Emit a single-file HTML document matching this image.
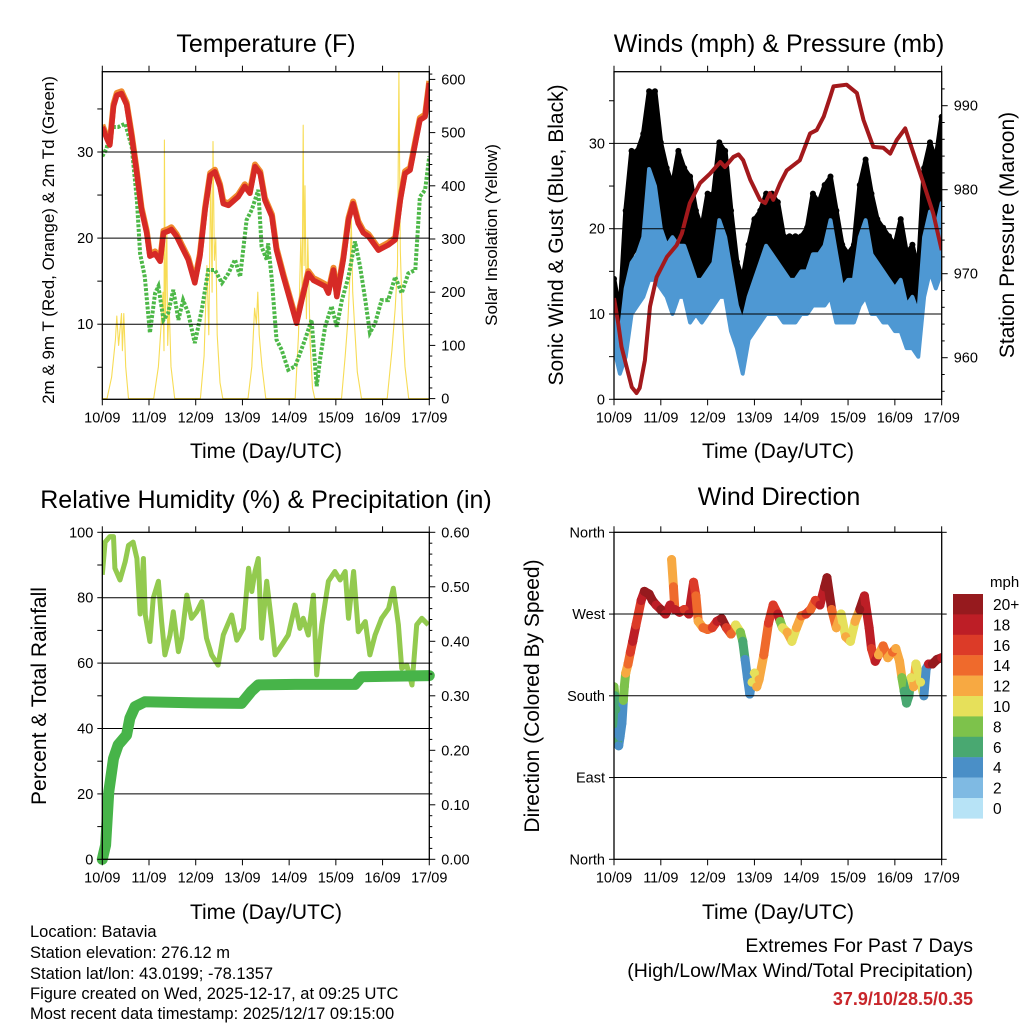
<!DOCTYPE html>
<html><head><meta charset="utf-8"><style>
html,body{margin:0;padding:0;background:#fff;}
svg{display:block;font-family:"Liberation Sans",Arial,sans-serif;}
</style></head><body>
<svg id="root" width="1024" height="1024" viewBox="0 0 1024 1024" xmlns="http://www.w3.org/2000/svg">
<defs>
<clipPath id="c1"><rect x="102.3" y="71.7" width="327" height="327.6"/></clipPath>
<clipPath id="c2"><rect x="614" y="71.7" width="327.7" height="327.6"/></clipPath>
<clipPath id="c3"><rect x="102.3" y="532.3" width="327" height="327"/></clipPath>
<clipPath id="c4"><rect x="614" y="532.3" width="327.7" height="327"/></clipPath>
</defs>
<g font-size="25" text-anchor="middle" fill="#000">
<text x="266" y="52">Temperature (F)</text>
<text x="779" y="52">Winds (mph) &amp; Pressure (mb)</text>
<text x="266" y="508">Relative Humidity (%) &amp; Precipitation (in)</text>
<text x="779" y="505">Wind Direction</text>
</g>
<g font-size="21" text-anchor="middle">
<text x="266" y="458">Time (Day/UTC)</text>
<text x="778" y="458">Time (Day/UTC)</text>
<text x="266" y="919">Time (Day/UTC)</text>
<text x="778" y="919">Time (Day/UTC)</text>
<text transform="translate(54,240) rotate(-90)" font-size="17">2m &amp; 9m T (Red, Orange) &amp; 2m Td (Green)</text>
<text transform="translate(497,235) rotate(-90)" font-size="17">Solar Insolation (Yellow)</text>
<text transform="translate(563,235) rotate(-90)">Sonic Wind &amp; Gust (Blue, Black)</text>
<text transform="translate(1014,235) rotate(-90)">Station Pressure (Maroon)</text>
<text transform="translate(46,696) rotate(-90)">Percent &amp; Total Rainfall</text>
<text transform="translate(539,696) rotate(-90)">Direction (Colored By Speed)</text>
</g>
<g font-size="16.5">
<text x="30" y="937">Location: Batavia</text>
<text x="30" y="958">Station elevation: 276.12 m</text>
<text x="30" y="979">Station lat/lon: 43.0199; -78.1357</text>
<text x="30" y="999">Figure created on Wed, 2025-12-17, at 09:25 UTC</text>
<text x="30" y="1019">Most recent data timestamp: 2025/12/17 09:15:00</text>
</g>
<g font-size="19.5" text-anchor="end">
<text x="973" y="952">Extremes For Past 7 Days</text>
<text x="973" y="977">(High/Low/Max Wind/Total Precipitation)</text>
<text x="973" y="1005" fill="#c8262b" font-weight="bold" font-size="18">37.9/10/28.5/0.35</text>
</g>
<g id="plots"></g>
</svg>
<script>
const dayLabels=["10/09","11/09","12/09","13/09","14/09","15/09","16/09","17/09"];
const tempT=[0,0.11,0.16,0.24,0.31,0.41,0.52,0.63,0.73,0.84,0.95,1.02,1.13,1.24,1.31,1.41,1.48,1.59,1.70,1.84,1.98,2.09,2.20,2.31,2.41,2.52,2.59,2.70,2.91,2.91,3.05,3.16,3.27,3.38,3.48,3.63,3.73,3.88,4.02,4.16,4.27,4.41,4.52,4.63,4.77,4.84,4.95,5.02,5.16,5.27,5.37,5.48,5.59,5.70,5.91,6.12,6.27,6.38,6.48,6.59,6.70,6.80,6.91,7.0];
const tempV=[32.9,31.4,30.8,35.3,36.6,36.8,35.5,31.8,27.9,23.3,20.6,17.9,18.2,17.3,20.6,20.8,21.0,20.2,19.0,17.5,14.8,17.9,23.3,27.3,27.7,26.0,24.0,23.8,24.8,24.8,26.0,25.2,28.3,27.5,24.4,22.5,18.6,15.5,12.8,10.1,12.8,15.9,15.1,14.8,14.4,13.6,16.3,13.2,17.5,22.1,24.0,21.7,20.6,20.2,18.6,19.2,19.8,24.4,27.5,27.9,31.0,33.7,34.1,38.0];
const dewT=[0,0.09,0.2,0.34,0.49,0.63,0.74,0.81,0.91,1.02,1.13,1.2,1.31,1.41,1.52,1.63,1.73,1.84,1.98,2.13,2.27,2.41,2.56,2.70,2.84,2.95,3.09,3.20,3.34,3.41,3.52,3.55,3.63,3.73,3.84,3.98,4.13,4.23,4.34,4.48,4.59,4.66,4.77,4.91,5.02,5.13,5.27,5.41,5.52,5.63,5.73,5.84,5.98,6.12,6.27,6.41,6.55,6.70,6.80,6.91,7.0];
const dewV=[29.5,30.4,32.9,32.9,33.3,30.6,24.4,18.2,15.5,9.0,13.6,14.4,10.5,11.3,14.0,10.5,12.8,11.3,7.8,11.7,16.3,16.3,14.8,15.9,17.5,15.5,22.1,23.3,25.6,19.0,17.5,19.4,15.1,8.2,7.0,4.7,5.1,6.6,8.2,10.5,2.8,5.9,9.7,12.1,9.7,12.8,15.5,19.6,16.7,12.8,9.0,10.1,12.8,12.8,15.5,13.6,15.9,16.3,24.8,25.6,29.5];
const solarT=[0,0.10,0.20,0.28,0.31,0.35,0.39,0.41,0.43,0.46,0.50,0.56,1.10,1.20,1.26,1.30,1.32,1.33,1.35,1.38,1.40,1.43,1.47,1.55,2.10,2.18,2.24,2.28,2.32,2.35,2.37,2.40,2.43,2.46,2.52,2.58,3.12,3.20,3.26,3.30,3.33,3.36,3.42,3.50,4.13,4.20,4.25,4.28,4.30,4.32,4.34,4.37,4.40,4.45,4.50,4.55,5.12,5.20,5.26,5.30,5.33,5.36,5.40,5.46,5.55,6.10,6.20,6.27,6.32,6.35,6.38,6.42,6.48,6.56,7.0];
const solarV=[0,0,40,110,155,100,140,160,90,160,60,0,0,60,140,200,90,486,150,320,100,180,60,0,0,80,250,120,420,200,483,260,300,120,30,0,0,60,170,140,200,120,60,0,0,120,300,200,514,250,400,150,300,100,20,0,0,80,150,230,336,200,140,50,0,0,90,170,250,614,280,160,60,0,0];
const presT=[0,0.09,0.16,0.27,0.38,0.48,0.55,0.66,0.77,0.91,1.13,1.34,1.45,1.62,1.84,2.05,2.27,2.37,2.55,2.66,2.76,2.91,3.12,3.23,3.33,3.40,3.55,3.69,3.97,4.19,4.33,4.48,4.62,4.69,4.97,5.19,5.33,5.54,5.75,5.90,6.04,6.22,6.40,6.61,6.82,7.0];
const presV=[967.1,964.1,961.3,958.9,956.5,955.8,956.4,959.7,966.1,969.6,972.0,973.4,974.8,978.4,980.8,981.9,983.3,982.7,983.9,984.2,983.5,981.2,978.8,978.4,979.6,978.8,980.8,982.3,983.5,986.7,987.1,988.7,991.1,992.3,992.5,991.5,988.3,985.1,985.0,984.3,985.9,987.3,984.3,980.8,977.2,972.8];
const windT=[0,0.125,0.25,0.375,0.5,0.625,0.75,0.875,1,1.125,1.25,1.375,1.5,1.625,1.75,1.875,2,2.125,2.25,2.375,2.5,2.625,2.75,2.875,3,3.125,3.25,3.375,3.5,3.625,3.75,3.875,4,4.125,4.25,4.375,4.5,4.625,4.75,4.875,5,5.125,5.25,5.375,5.5,5.625,5.75,5.875,6,6.125,6.25,6.375,6.5,6.625,6.75,6.875,7];
const gustHi=[14,10,22,29,29,31,36,36,30,27,25,29,27,26,22,20,24,24,30,29,22,16,14,18,21,22,24,24,23,19,19,19,19,20,24,23,25,26,22,18,17,18,25,28,24,21,20,19,18,21,17,18,15,27,30,28,33];
const gustLo=[8,7,12,17,18,20,22,21,20,18,17,19,18,15,14,13,14,16,19,20,14,10,6,12,14,15,16,16,15,14,13,13,13,14,16,16,17,18,14,13,13,13,16,18,16,15,14,13,12,13,11,12,9,17,20,20,22];
const windHi=[10,7,13,16,17,19,27,25,20,18,19,18,18,16,14,14,15,16,21,19,15,11,9,12,14,16,18,17,16,15,14,14,15,15,17,17,18,21,17,13,14,14,19,21,17,16,15,14,13,14,11,12,10,19,22,20,23];
const windLo=[6,3,5,10,11,12,14,14,13,12,10,12,12,9,10,9,10,11,12,12,8,6,3,7,8,9,10,10,10,9,9,9,10,10,11,11,11,12,9,9,9,9,11,12,10,10,9,9,8,8,6,6,5,12,15,13,15];
const rhT=[0,0.06,0.16,0.24,0.27,0.38,0.49,0.56,0.66,0.74,0.81,0.88,0.92,1.02,1.09,1.20,1.27,1.34,1.45,1.52,1.63,1.70,1.81,1.91,2.02,2.13,2.23,2.34,2.48,2.59,2.77,2.88,3.02,3.13,3.20,3.27,3.34,3.41,3.52,3.63,3.70,3.84,3.98,4.13,4.23,4.30,4.41,4.52,4.59,4.70,4.84,4.98,5.09,5.20,5.27,5.38,5.48,5.63,5.73,5.84,5.98,6.13,6.23,6.34,6.41,6.52,6.63,6.73,6.84,6.98];
const rhV=[87,97,98.7,98.7,89,85.4,91,96,97,92,75,92,74.7,66.6,79.8,85,72.7,62.5,68.6,75.7,63.5,67.6,80.8,73.7,75.7,78.8,67.6,62.5,59.4,68.6,74.7,67,70.6,89,81.9,88,92,67.6,85,71.7,62.5,65.5,68.6,77.8,70.6,73.7,68.6,80.8,56.4,71.7,85,88,85.4,88,73.7,88,69.6,72.7,62.5,68.6,73.7,76.7,82.9,71.7,58.4,59.4,53.3,71.7,73.7,71.7];
const precipT=[0,0.07,0.14,0.24,0.34,0.52,0.59,0.70,0.91,2.0,2.98,3.19,3.34,4.13,5.41,5.55,7.0];
const precipV=[0,0.026,0.124,0.185,0.21,0.228,0.259,0.28,0.289,0.287,0.286,0.308,0.32,0.321,0.321,0.335,0.337];
const dirT=[0,0.02,0.04,0.06,0.08,0.1,0.13,0.17,0.2,0.22,0.25,0.3,0.35,0.4,0.47,0.52,0.58,0.65,0.75,0.82,0.9,1.0,1.1,1.2,1.23,1.27,1.3,1.4,1.5,1.6,1.7,1.75,1.8,1.9,2.0,2.1,2.2,2.3,2.4,2.5,2.6,2.7,2.75,2.8,2.85,2.9,2.95,3.0,3.05,3.1,3.2,3.3,3.4,3.5,3.55,3.6,3.7,3.8,3.9,4.0,4.1,4.2,4.3,4.4,4.5,4.55,4.65,4.75,4.85,4.95,5.05,5.15,5.25,5.35,5.45,5.5,5.58,5.65,5.75,5.85,5.95,6.02,6.1,6.15,6.2,6.25,6.3,6.35,6.4,6.45,6.55,6.62,6.67,6.72,6.8,6.9,7.0];
const dirDeg=[190,180,165,140,130,125,135,150,175,190,205,215,228,240,258,270,285,295,292,285,280,275,270,280,330,300,275,272,275,270,305,290,262,255,253,255,262,265,255,248,258,250,240,220,200,182,195,205,190,198,225,260,280,270,262,255,250,240,255,268,270,275,285,280,300,310,275,255,270,245,240,262,275,290,255,232,218,225,235,222,228,232,218,200,185,172,180,200,190,215,195,180,210,215,215,220,222];
const dirSpd=[9,7,6,5,6,4,5,4,8,9,13,15,17,18,16,17,19,21,22,20,18,20,18,19,12,14,19,18,17,18,17,15,13,14,15,16,18,21,17,15,10,9,7,5,4,5,10,11,12,13,14,16,16,18,9,11,12,10,13,15,16,15,17,19,21,20,15,12,11,12,10,13,20,18,18,16,18,13,14,12,14,13,12,8,7,6,7,10,12,11,10,5,4,18,20,20,19];
const cbLabels=["20+","18","16","14","12","10","8","6","4","2","0"];
const cbColors=["#961a1e","#bd1e26","#dc3b28","#ef6a2c","#f7a942","#e6e05a","#7dc24b","#49a871","#4a8fc7","#7fbae3","#b7e3f6"];

const NS="http://www.w3.org/2000/svg";
const plots=document.getElementById('plots');
function mk(tag,attrs,parent){const e=document.createElementNS(NS,tag);for(const k in attrs)e.setAttribute(k,attrs[k]);(parent||plots).appendChild(e);return e;}
function pathD(xs,ys,fx,fy){return xs.map((t,i)=>(i?'L':'M')+fx(t).toFixed(1)+','+fy(ys[i]).toFixed(1)).join('');}

const x1=d=>102.3+d*46.71, x2=d=>614+d*46.81;
const yT=v=>152-(v-30)*8.61, yS=w=>398.6-w*0.532;
const yW=v=>399.3-v*8.53, yP=p=>105.7+(990-p)*8.4;
const yR=v=>859.3-v*3.27, yPr=v=>859.3-v/0.6*327;
const yD=g=>859.3-g*0.9083;

function frame(x0,y0,x1_,y1_,name){const r=mk('rect',{x:x0,y:y0,width:x1_-x0,height:y1_-y0,fill:'none',stroke:'#000','stroke-width':1.3});}
function grid(vals,fy,x0,x1_,name){vals.forEach(v=>{const l=mk('line',{x1:x0,x2:x1_,y1:fy(v),y2:fy(v),stroke:'#000','stroke-width':1});});}
function xAxis(fx,yTop,yBot,name){dayLabels.forEach((lab,i)=>{const x=fx(i);mk('line',{x1:x,x2:x,y1:yBot,y2:yBot+6,stroke:'#000','stroke-width':1});mk('line',{x1:x,x2:x,y1:yTop,y2:yTop-6,stroke:'#000','stroke-width':1});const t=mk('text',{x:x,y:yBot+23,'font-size':14.5,'text-anchor':'middle'});t.textContent=lab;});}
function yTicks(vals,labels,fy,x,side,len,name){vals.forEach((v,i)=>{const y=fy(v);mk('line',{x1:x,x2:x+side*len,y1:y,y2:y,stroke:'#000','stroke-width':1});if(labels&&labels[i]!==null){const t=mk('text',{x:x+side*(len+(side<0?4:6)),y:y+5,'font-size':14.5,'text-anchor':side<0?'end':'start'});t.textContent=labels[i];}});}

// Panel 1
const g1=mk('g',{'clip-path':'url(#c1)'});
grid([10,20,30],yT,102.3,429.3,'temp-gridline');
let p=mk('path',{d:pathD(solarT,solarV,x1,yS),fill:'none',stroke:'#f7dc55','stroke-width':1.1,'stroke-linejoin':'round'},g1);

p=mk('path',{d:pathD(dewT,dewV,x1,yT),fill:'none',stroke:'#4db848','stroke-width':4,'stroke-dasharray':'3 1.6'},g1);

p=mk('path',{d:pathD(tempT,tempV.map(v=>v+0.25),x1,yT),fill:'none',stroke:'#f08a2e','stroke-width':6,'stroke-linejoin':'round'},g1);

p=mk('path',{d:pathD(tempT,tempV,x1,yT),fill:'none',stroke:'#d62a26','stroke-width':5.5,'stroke-linejoin':'round'},g1);

frame(102.3,71.7,429.3,399.3,'temp-plot-frame');
xAxis(x1,71.7,399.3,'temp-x-tick-label');
yTicks([5,10,15,20,25,30,35],[null,'10',null,'20',null,'30',null],yT,102.3,-1,5,'temp-y-tick-label');
yTicks([0,100,200,300,400,500,600],['0','100','200','300','400','500','600'],yS,429.3,1,6,'solar-y-tick-label');
yTicks([20,40,60,80,120,140,160,180,220,240,260,280,320,340,360,380,420,440,460,480,520,540,560,580,610],null,yS,429.3,1,3,'solar-minor-tick');

// Panel 2
const g2=mk('g',{'clip-path':'url(#c2)'});
grid([10,20,30],yW,614,941.7,'wind-gridline');
function band(hi,lo,col,name,w){const xs=windT.concat(windT.slice().reverse());const ys=hi.concat(lo.slice().reverse());const e=mk('path',{d:pathD(xs,ys,x2,yW)+'Z',fill:col,stroke:col,'stroke-width':w,'stroke-linejoin':'round'},g2);}
band(gustHi,gustLo,'#000','gust-points',5);
windT.forEach((t,i)=>{const c=mk('circle',{cx:x2(t),cy:yW(gustHi[i])-1,r:3,fill:'#000'},g2);});
band(windHi,windLo,'#4e98d3','wind-speed-band',4);
p=mk('path',{d:pathD(presT,presV,x2,yP),fill:'none',stroke:'#a3191c','stroke-width':4,'stroke-linejoin':'round'},g2);

frame(614,71.7,941.7,399.3,'winds-plot-frame');
xAxis(x2,71.7,399.3,'winds-x-tick-label');
yTicks([0,5,10,15,20,25,30,35],['0',null,'10',null,'20',null,'30',null],yW,614,-1,5,'wind-y-tick-label');
yTicks([960,970,980,990],['960','970','980','990'],yP,941.7,1,6,'pressure-y-tick-label');
yTicks([956,958,962,964,966,968,972,974,976,978,982,984,986,988,992],null,yP,941.7,1,3,'pressure-minor-tick');

// Panel 3
const g3=mk('g',{'clip-path':'url(#c3)'});
grid([20,40,60,80],yR,102.3,429.3,'humidity-gridline');
p=mk('path',{d:pathD(rhT,rhV,x1,yR),fill:'none',stroke:'#93ca4f','stroke-width':5,'stroke-linejoin':'round'},g3);

p=mk('path',{d:pathD(precipT,precipV,x1,yPr),fill:'none',stroke:'#47b449','stroke-width':11,'stroke-linejoin':'round','stroke-linecap':'round'});

frame(102.3,532.3,429.3,859.3,'humidity-plot-frame');
xAxis(x1,532.3,859.3,'humidity-x-tick-label');
yTicks([0,10,20,30,40,50,60,70,80,90,100],['0',null,'20',null,'40',null,'60',null,'80',null,'100'],yR,102.3,-1,5,'humidity-y-tick-label');
yTicks([0,0.1,0.2,0.3,0.4,0.5,0.6],['0.00','0.10','0.20','0.30','0.40','0.50','0.60'],yPr,429.3,1,6,'precip-y-tick-label');
yTicks([0.02,0.04,0.06,0.08,0.12,0.14,0.16,0.18,0.22,0.24,0.26,0.28,0.32,0.34,0.36,0.38,0.42,0.44,0.46,0.48,0.52,0.54,0.56,0.58],null,yPr,429.3,1,3,'precip-minor-tick');

// Panel 4
const g4=mk('g',{'clip-path':'url(#c4)'});
grid([90,180,270],yD,614,941.7,'direction-gridline');
const colFor=s=>cbColors[10-Math.min(10,Math.floor(s/2))];
for(let i=0;i<dirT.length-1;i++){if(Math.abs(dirDeg[i+1]-dirDeg[i])>40)continue;const l=mk('line',{x1:x2(dirT[i]),y1:yD(dirDeg[i]),x2:x2(dirT[i+1]),y2:yD(dirDeg[i+1]),stroke:colFor(dirSpd[i]),'stroke-width':9,'stroke-linecap':'round'},g4);}
dirT.forEach((t,i)=>{const c=mk('circle',{cx:x2(t),cy:yD(dirDeg[i]),r:4.5,fill:colFor(dirSpd[i])},g4);});
frame(614,532.3,941.7,859.3,'direction-plot-frame');
xAxis(x2,532.3,859.3,'direction-x-tick-label');
yTicks([0,90,180,270,360],['North','East','South','West','North'],yD,614,-1,5,'direction-y-tick-label');
yTicks([0,90,180,270,360],null,yD,941.7,1,5,'direction-right-tick');
let t=mk('text',{x:990,y:587,'font-size':15});t.textContent='mph';
cbLabels.forEach((lab,i)=>{const y=594+i*20.4;const r=mk('rect',{x:953,y:y,width:30,height:20.6,fill:cbColors[i]});
const tx=mk('text',{x:993,y:y+16,'font-size':15.5});tx.textContent=lab;});
</script>
</body></html>
